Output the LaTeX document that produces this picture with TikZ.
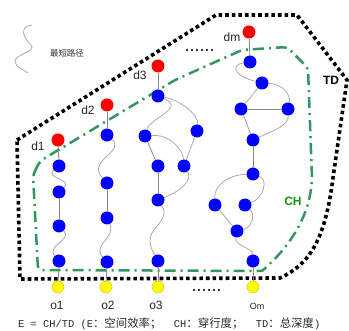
\documentclass[tikz,border=0pt]{standalone}
\usepackage{fontspec}
\setmainfont{Liberation Sans}
\newfontfamily\cjk{Noto Sans CJK SC}
\newfontfamily\monof{Liberation Mono}
\usetikzlibrary{backgrounds}
\definecolor{chgreen}{RGB}{50,150,95}
\definecolor{chtext}{RGB}{20,150,20}
\definecolor{edgegray}{RGB}{170,170,170}
\definecolor{stgray}{RGB}{135,135,135}
\definecolor{ylw}{RGB}{255,255,0}
\definecolor{ylwb}{RGB}{200,190,0}
\tikzset{
 bnode/.style={circle,fill=blue,inner sep=0pt,minimum size=13pt},
 rnode/.style={circle,fill=red,inner sep=0pt,minimum size=13pt},
 ynode/.style={circle,fill=ylw,draw=ylwb,line width=0.4pt,inner sep=0pt,minimum size=12pt},
 lbl/.style={font=\fontsize{12}{12}\selectfont,text=black!85,inner sep=0pt},
 curvy/.style={draw=edgegray,line width=0.8pt},
 straight/.style={draw=stgray,line width=0.8pt},
 tdline/.style={draw=black,line width=3.6pt,dash pattern=on 3.6pt off 3pt},
 chline/.style={draw=chgreen,line width=2.5pt,dash pattern=on 11pt off 5pt on 2pt off 5pt},
 smalldots/.style={draw=black!80,line width=1.6pt,dash pattern=on 1.6pt off 3.4pt},
}
\begin{document}
\begin{tikzpicture}[x=1pt,y=-1pt]
\useasboundingbox (0,0) rectangle (349,331);
% column 1
\node[rnode] (d1) at (58,140) {};
\node[bnode] (a1) at (59,166) {};
\node[bnode] (a2) at (59,192) {};
\node[bnode] (a3) at (59,226) {};
\node[bnode] (a4) at (59,261) {};
\node[ynode] (o1) at (58,287) {};
% column 2
\node[rnode] (d2) at (107,105) {};
\node[bnode] (b1) at (107,135) {};
\node[bnode] (b2) at (107,183) {};
\node[bnode] (b3) at (107,218) {};
\node[bnode] (b4) at (107,262) {};
\node[ynode] (o2) at (106,287) {};
% column 3
\node[rnode] (d3) at (158,66) {};
\node[bnode] (c1) at (158,96) {};
\node[bnode] (c2) at (145,136) {};
\node[bnode] (c3) at (197,131) {};
\node[bnode] (c4) at (158,166) {};
\node[bnode] (c5) at (184,166) {};
\node[bnode] (c6) at (158,200) {};
\node[bnode] (c7) at (158,261) {};
\node[ynode] (o3) at (158,287) {};
% column m
\node[rnode] (dm) at (249,32) {};
\node[bnode] (m1) at (250,62) {};
\node[bnode] (m2) at (262,83) {};
\node[bnode] (m3) at (241,109) {};
\node[bnode] (m4) at (288,109) {};
\node[bnode] (m5) at (253,140) {};
\node[bnode] (m6) at (253,174) {};
\node[bnode] (m7) at (215,205) {};
\node[bnode] (m8) at (245,205) {};
\node[bnode] (m9) at (237,231) {};
\node[bnode] (m10) at (253,261) {};
\node[ynode] (om) at (253,287) {};
% labels
\node[lbl] (ld1) at (38,146) {d1};
\node[lbl] (ld2) at (88,110) {d2};
\node[lbl] (ld3) at (140,75) {d3};
\node[lbl] (ldm) at (232,37) {dm};
\node[lbl] (lo1) at (57,305) {o1};
\node[lbl] (lo2) at (108,305) {o2};
\node[lbl] (lo3) at (156,305) {o3};
\node[lbl,font=\fontsize{9}{9}\selectfont] (lom) at (257,306) {Om};
\node[lbl,font=\bfseries\fontsize{12}{12}\selectfont,text=black] (ltd) at (331,80) {TD};
\node[lbl,font=\bfseries\fontsize{12}{12}\selectfont,text=chtext] (lch) at (293,201) {CH};
\node[lbl,font=\cjk\fontsize{8.5}{8.5}\selectfont,text=black!80] (leg) at (67,53) {最短路径};
\node[anchor=west,inner sep=0pt,text=black!85] (formula) at (18,324)
 {\fontsize{10.4}{12}\selectfont\monof E = CH/TD (E{\cjk\fontsize{11.4}{12}\selectfont ：空间效率；}\ \ CH{\cjk\fontsize{11.4}{12}\selectfont ：穿行度；}\ \ TD{\cjk\fontsize{11.4}{12}\selectfont ：总深度}{\monof )}};
\begin{scope}[on background layer]
% legend wave
\draw[curvy] (32,25) .. controls (18,27) and (24,38) .. (31,45) .. controls (37,52) and (14,54) .. (15,62) .. controls (16,67) and (24,70) .. (28,73);
% TD boundary
\draw[tdline] (17,140) -- (216,15) -- (297,15) -- (347,80) -- (333,178) .. controls (325,240) and (310,264) .. (280,278) -- (20,279) -- cycle;
% CH boundary
\draw[chline,rounded corners=4pt] (33,175) -- (40,161) -- (175,80) -- (242,50) -- (287,47) -- (308,68) -- (312,178)
  [rounded corners=0pt] .. controls (309,222) and (284,252) .. (262,271)
  [rounded corners=4pt] -- (38,270) -- cycle;
% ellipses
\coordinate (e1a) at (186,50); \coordinate (e1b) at (214,50);
\coordinate (e2a) at (193,290); \coordinate (e2b) at (223,290);
\draw[smalldots] (e1a) -- (e1b);
\draw[smalldots] (e2a) -- (e2b);
% column 1 edges
\draw[straight] (d1) -- (a1);
\draw[curvy] (a1) .. controls (44,178) and (73,179) .. (a2);
\draw[straight] (a2) -- (a3);
\draw[curvy] (a3) .. controls (73,240) and (46,245) .. (a4);
\draw[straight] (a4) -- (o1);
% column 2 edges
\draw[straight] (d2) -- (b1);
\draw[curvy] (b1) .. controls (126,152) and (86,160) .. (b2);
\draw[straight] (b2) -- (b3);
\draw[curvy] (b3) .. controls (116,238) and (92,245) .. (b4);
\draw[straight] (b4) -- (o2);
% column 3 edges
\draw[straight] (d3) -- (c1);
\draw[curvy] (c1) .. controls (186,108) and (150,118) .. (c2);
\draw[curvy] (c1) .. controls (180,100) and (199,115) .. (c3);
\draw[straight] (c2) -- (c4);
\draw[curvy] (c2) .. controls (170,134) and (183,150) .. (c5);
\draw[curvy] (c3) -- (c5);
\draw[straight] (c4) -- (c6);
\draw[curvy] (c5) .. controls (193,180) and (181,191) .. (c6);
\draw[curvy] (c6) .. controls (168,215) and (160,222) .. (154,230) .. controls (146,240) and (152,250) .. (c7);
\draw[straight] (c7) -- (o3);
% column m edges
\draw[straight] (dm) -- (m1);
\draw[curvy] (m1) .. controls (230,65) and (234,76) .. (m2);
\draw[curvy] (m2) -- (m3);
\draw[curvy] (m2) .. controls (283,84) and (291,95) .. (m4);
\draw[straight] (m3) -- (m4);
\draw[curvy] (m3) -- (m5);
\draw[curvy] (m4) .. controls (289,126) and (270,132) .. (m5);
\draw[straight] (m5) -- (m6);
\draw[curvy] (m6) .. controls (227,175) and (214,186) .. (m7);
\draw[curvy] (m6) .. controls (269,180) and (263,198) .. (m8);
\draw[curvy] (m7) -- (m9);
\draw[curvy] (m8) .. controls (256,215) and (251,228) .. (m9);
\draw[curvy] (m9) .. controls (234,246) and (253,248) .. (m10);
\draw[straight] (m10) -- (om);
\end{scope}
\end{tikzpicture}
\end{document}
